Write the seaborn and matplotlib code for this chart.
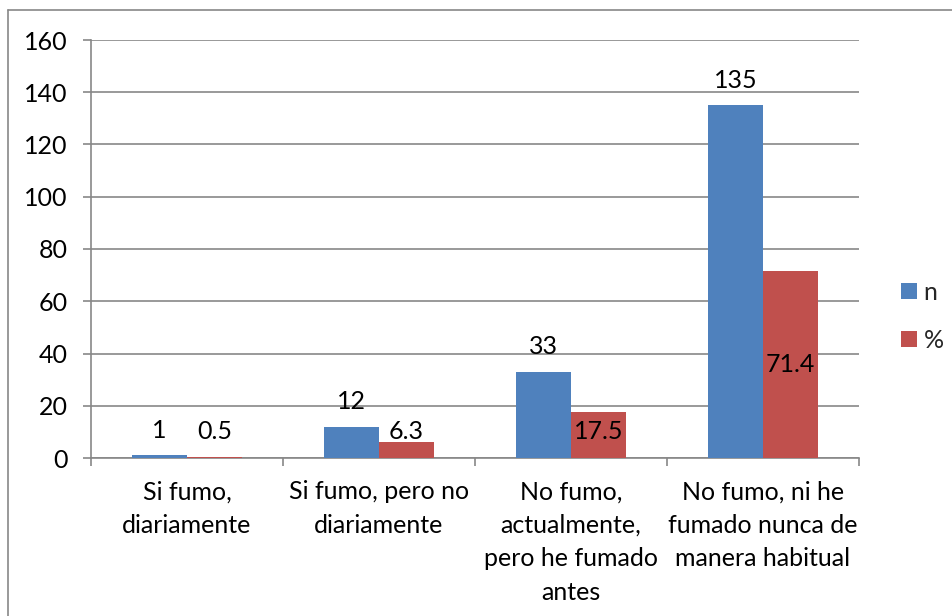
import matplotlib
matplotlib.use("Agg")
import matplotlib.pyplot as plt
from matplotlib.lines import Line2D
from matplotlib.ticker import FixedLocator, NullFormatter
import seaborn as sns
import pandas as pd

# Smoking status survey: counts (n) and percentages (%)
categories = [
    "Si fumo,\ndiariamente",
    "Si fumo, pero no\ndiariamente",
    "No fumo,\nactualmente,\npero he fumado\nantes",
    "No fumo, ni he\nfumado nunca de\nmanera habitual",
]
n_values = [1, 12, 33, 135]
pct_values = [0.5, 6.3, 17.5, 71.4]
series_names = ["n", "%"]
y_ticks = [0, 20, 40, 60, 80, 100, 120, 140, 160]

BLUE = "#4F81BD"
RED = "#C0504D"
GRID = "#878787"
FS = 18

df = pd.DataFrame({
    "cat": categories * 2,
    "serie": [series_names[0]] * len(categories) + [series_names[1]] * len(categories),
    "valor": n_values + pct_values,
})

sns.set_theme(style="white")
plt.rcParams["font.family"] = ["Lato", "DejaVu Sans"]

fig = plt.figure(figsize=(9.53, 6.16), dpi=100)
ax = fig.add_axes([91 / 953, (616 - 458) / 616, (859 - 91) / 953, (458 - 40) / 616])

sns.barplot(data=df, x="cat", y="valor", hue="serie", order=categories,
            hue_order=series_names, palette=[BLUE, RED], width=0.573,
            saturation=1, ax=ax, legend=False, linewidth=0, zorder=3)

ax.set_ylim(0, 160)
ax.set_xlim(-0.5, len(categories) - 0.5)
ax.set_yticks(y_ticks)
ax.yaxis.grid(True, color=GRID, linewidth=1.2, zorder=0)
ax.set_axisbelow(True)
ax.set_xlabel("")
ax.set_ylabel("")

for side in ["top", "right"]:
    ax.spines[side].set_visible(False)
for side in ["left", "bottom"]:
    ax.spines[side].set_color(GRID)
    ax.spines[side].set_linewidth(1.2)

ax.tick_params(axis="y", which="major", length=6, width=1.2, color=GRID,
               pad=11, labelsize=FS, labelcolor="black", left=True)
ax.tick_params(axis="x", which="major", length=0, pad=16, labelsize=FS,
               labelcolor="black")
ax.xaxis.set_minor_locator(FixedLocator([i - 0.5 for i in range(len(categories) + 1)]))
ax.xaxis.set_minor_formatter(NullFormatter())
ax.tick_params(axis="x", which="minor", length=6, width=1.2, color=GRID, bottom=True)
for lbl in ax.get_xticklabels():
    lbl.set_linespacing(1.55)

# Value labels
half = 0.573 / 4
for i, v in enumerate(n_values):
    ax.annotate(f"{v:g}", xy=(i - half, v), xytext=(0, 18), textcoords="offset points",
                ha="center", va="center", fontsize=FS, color="black", zorder=5)
for i, v in enumerate(pct_values):
    ax.text(i + half, max(v / 2, 10), f"{v:g}", ha="center", va="center",
            fontsize=FS, color="black", zorder=5)

# Legend
handles = [Line2D([], [], marker="s", linestyle="", markersize=11,
                  markerfacecolor=c, markeredgewidth=0) for c in (BLUE, RED)]
fig.legend(handles, series_names, loc="center left", bbox_to_anchor=(900 / 953, 1 - 316 / 616),
           frameon=False, fontsize=FS, handlelength=0.7, handletextpad=0.25,
           labelspacing=1.0, borderpad=0, borderaxespad=0)

# Chart area border (top and left edges)
fig.add_artist(Line2D([8 / 953, 8 / 953], [0, 1 - 10 / 616], transform=fig.transFigure,
                      color=GRID, linewidth=1.2))
fig.add_artist(Line2D([8 / 953, 1], [1 - 10 / 616, 1 - 10 / 616], transform=fig.transFigure,
                      color=GRID, linewidth=1.2))

fig.savefig("out.png", dpi=100, facecolor="white")
